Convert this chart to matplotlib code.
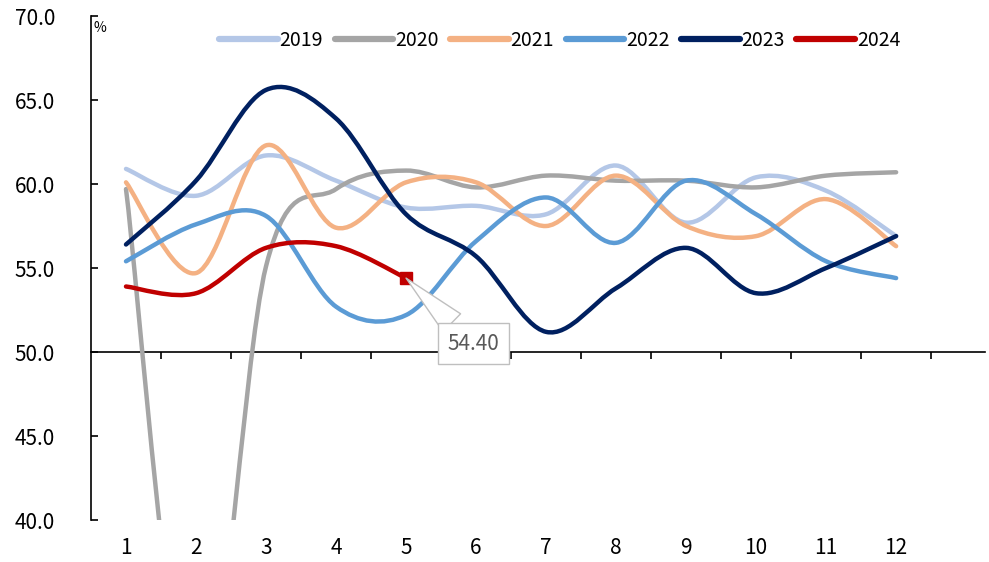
import numpy as np
import matplotlib
matplotlib.use('Agg')
import matplotlib.pyplot as plt
from matplotlib.path import Path
from matplotlib.patches import PathPatch
from matplotlib.lines import Line2D

plt.rcParams['font.family'] = ['Noto Sans CJK SC', 'DejaVu Sans']

# 数据（按月）
months = list(range(1, 13))
v2019 = [60.9, 59.3, 61.7, 60.2, 58.6, 58.7, 58.2, 61.1, 57.7, 60.4, 59.6, 56.9]
v2020 = [59.7, 26.6, 55.1, 59.7, 60.8, 59.8, 60.5, 60.2, 60.2, 59.8, 60.5, 60.7]
v2021 = [60.1, 54.7, 62.3, 57.4, 60.1, 60.1, 57.5, 60.5, 57.5, 56.9, 59.1, 56.3]
v2022 = [55.4, 57.6, 58.1, 52.7, 52.2, 56.6, 59.2, 56.5, 60.2, 58.2, 55.4, 54.4]
v2023 = [56.4, 60.2, 65.6, 63.9, 58.2, 55.7, 51.2, 53.8, 56.2, 53.5, 55.0, 56.9]
v2024 = [53.9, 53.5, 56.2, 56.3, 54.4]

years = ['2019', '2020', '2021', '2022', '2023', '2024']
series = [v2019, v2020, v2021, v2022, v2023, v2024]
colors = ['#B4C7E7', '#A5A5A5', '#F4B183', '#5B9BD5', '#002060', '#C00000']


def smooth_path(xs, ys):
    # 类似 Excel 平滑线：Catmull-Rom 转三次贝塞尔
    pts = np.column_stack([xs, ys]).astype(float)
    n = len(pts)
    verts = [pts[0]]
    codes = [Path.MOVETO]
    for i in range(n - 1):
        p0 = pts[i - 1] if i > 0 else pts[i]
        p1 = pts[i]
        p2 = pts[i + 1]
        p3 = pts[i + 2] if i + 2 < n else pts[i + 1]
        verts += [p1 + (p2 - p0) / 6, p2 - (p3 - p1) / 6, p2]
        codes += [Path.CURVE4] * 3
    return Path(verts, codes)


fig = plt.figure(figsize=(9.89, 5.62), dpi=100)
ax = fig.add_axes([0.092, 0.0747, 0.904, 0.8968])

handles = []
for name, vals, c in zip(years, series, colors):
    xs = months[:len(vals)]
    patch = PathPatch(smooth_path(xs, vals), fill=False, edgecolor=c, lw=3.2,
                      capstyle='round', joinstyle='round')
    ax.add_patch(patch)
    handles.append(Line2D([], [], color=c, lw=4.5, solid_capstyle='round'))

# 2024 最新值标记与标注
last_x = len(v2024)
last_y = v2024[-1]
ax.plot([last_x], [last_y], 's', color='#C00000', ms=8, zorder=5)
ax.annotate(f'{last_y:.2f}', xy=(last_x, last_y), xytext=(5.96, 50.5),
            ha='center', va='center', fontsize=15, color='#595959',
            bbox=dict(boxstyle='square,pad=0.45', fc='white', ec='#BFBFBF', lw=1),
            arrowprops=dict(arrowstyle='wedge,tail_width=1.2', fc='white',
                            ec='#BFBFBF', lw=1, shrinkA=0, shrinkB=0),
            zorder=6)

ax.set_xlim(0.5, 13.27)
ax.set_ylim(40, 70)

for s in ['top', 'right', 'bottom']:
    ax.spines[s].set_visible(False)
ax.spines['left'].set_linewidth(1.2)

ax.set_yticks(np.arange(40, 71, 5))
ax.yaxis.set_major_formatter(plt.FuncFormatter(lambda v, p: f'{v:.1f}'))
ax.tick_params(axis='y', direction='in', length=5, width=1.2, pad=26, labelsize=15)

ax.set_xticks(months)
ax.set_xticklabels([str(m) for m in months])
ax.tick_params(axis='x', length=0, pad=12, labelsize=15)

# 50 处的横轴
sec = ax.secondary_xaxis(1 / 3)
sec.set_xticks(np.arange(1.5, 13, 1))
sec.set_xticklabels([])
sec.tick_params(direction='out', length=5, width=1.2)
sec.spines['bottom'].set_linewidth(1.2)

ax.text(0.003, 0.99, '%', transform=ax.transAxes, fontsize=10, va='top', ha='left')

fig.legend(handles, years, loc='center', bbox_to_anchor=(0.566, 0.928), ncol=6,
           frameon=False, fontsize=14, handlelength=3.0, handletextpad=0.1,
           columnspacing=0.6)

fig.savefig('out.png', dpi=100)
plt.close(fig)
